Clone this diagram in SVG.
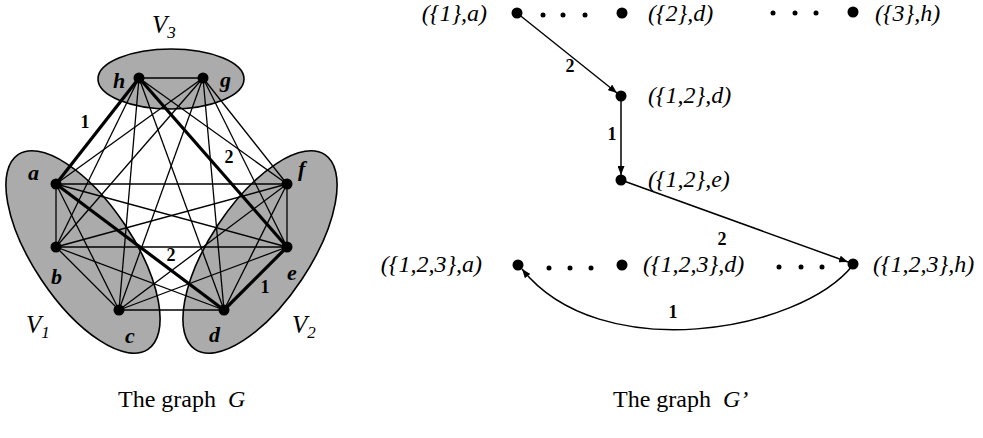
<svg xmlns="http://www.w3.org/2000/svg" width="983" height="438" viewBox="0 0 983 438">
<style>
.blob{fill:#ababab;stroke:#000;stroke-width:1.6}
.e{stroke:#000;stroke-width:1.3;fill:none}
.t{stroke:#000;stroke-width:3.2;fill:none}
.dot{fill:#000}
.nl{font-family:"Liberation Serif",serif;font-style:italic;font-weight:bold;font-size:22px;fill:#000}
.vl{font-family:"Liberation Serif",serif;font-style:italic;font-size:25px;fill:#000}
.sub{font-family:"Liberation Serif",serif;font-size:17px;fill:#000}
.w{font-family:"Liberation Serif",serif;font-weight:bold;font-size:18px;fill:#000}
.lbl{font-family:"Liberation Serif",serif;font-style:italic;font-size:24px;fill:#000}
.cap{font-family:"Liberation Serif",serif;font-size:24px;fill:#000}
.arr{stroke:#000;stroke-width:1.5;fill:none;marker-end:url(#ah)}
</style>
<defs>
<marker id="ah" markerUnits="userSpaceOnUse" markerWidth="9" markerHeight="7" refX="9" refY="3.5" orient="auto">
<path d="M0,0 L9,3.5 L0,7 z" fill="#000"/>
</marker>
</defs>

<!-- Graph G: groups (blobs) -->
<g id="V1">
<ellipse class="blob" cx="83" cy="252" rx="117" ry="50" transform="rotate(56.3 83 252)"/>
<text class="vl" x="26" y="333">V<tspan class="sub" dy="5">1</tspan></text>
</g>
<g id="V2">
<ellipse class="blob" cx="260" cy="252" rx="117" ry="50" transform="rotate(-56.3 260 252)"/>
<text class="vl" x="292" y="333">V<tspan class="sub" dy="5">2</tspan></text>
</g>
<g id="V3">
<ellipse class="blob" cx="171" cy="79" rx="73" ry="30"/>
<text class="vl" x="152" y="33">V<tspan class="sub" dy="5">3</tspan></text>
</g>

<!-- Graph G: edges -->
<g id="edges-G">
<line class="e" x1="139" y1="78" x2="203" y2="78"/>
<line class="e" x1="139" y1="78" x2="56" y2="247"/>
<line class="e" x1="139" y1="78" x2="119" y2="310"/>
<line class="e" x1="139" y1="78" x2="224" y2="310"/>
<line class="e" x1="139" y1="78" x2="287" y2="184"/>
<line class="e" x1="203" y1="78" x2="56" y2="184"/>
<line class="e" x1="203" y1="78" x2="56" y2="247"/>
<line class="e" x1="203" y1="78" x2="119" y2="310"/>
<line class="e" x1="203" y1="78" x2="224" y2="310"/>
<line class="e" x1="203" y1="78" x2="287" y2="247"/>
<line class="e" x1="203" y1="78" x2="287" y2="184"/>
<line class="e" x1="56" y1="184" x2="287" y2="184"/>
<line class="e" x1="56" y1="184" x2="56" y2="247"/>
<line class="e" x1="56" y1="184" x2="119" y2="310"/>
<line class="e" x1="56" y1="184" x2="287" y2="247"/>
<line class="e" x1="56" y1="247" x2="287" y2="247"/>
<line class="e" x1="56" y1="247" x2="119" y2="310"/>
<line class="e" x1="56" y1="247" x2="224" y2="310"/>
<line class="e" x1="56" y1="247" x2="287" y2="184"/>
<line class="e" x1="119" y1="310" x2="224" y2="310"/>
<line class="e" x1="119" y1="310" x2="287" y2="184"/>
<line class="e" x1="119" y1="310" x2="287" y2="247"/>
<line class="e" x1="224" y1="310" x2="287" y2="184"/>
<line class="e" x1="287" y1="184" x2="287" y2="247"/>
<line class="t" x1="139" y1="78" x2="56" y2="184"/>
<line class="t" x1="139" y1="78" x2="287" y2="247"/>
<line class="t" x1="56" y1="184" x2="224" y2="310"/>
<line class="t" x1="224" y1="310" x2="287" y2="247"/>
<text class="w" x="85" y="128" text-anchor="middle">1</text>
<text class="w" x="229" y="163" text-anchor="middle">2</text>
<text class="w" x="171" y="261" text-anchor="middle">2</text>
<text class="w" x="265" y="293" text-anchor="middle">1</text>
</g>

<!-- Graph G: nodes -->
<g id="node-h"><circle class="dot" cx="139" cy="78" r="5.5"/><text class="nl" x="113" y="88">h</text></g>
<g id="node-g"><circle class="dot" cx="203" cy="78" r="5.5"/><text class="nl" x="220" y="87">g</text></g>
<g id="node-a"><circle class="dot" cx="56" cy="184" r="5.5"/><text class="nl" x="28" y="180">a</text></g>
<g id="node-f"><circle class="dot" cx="287" cy="184" r="5.5"/><text class="nl" x="298" y="176">f</text></g>
<g id="node-b"><circle class="dot" cx="56" cy="247" r="5.5"/><text class="nl" x="51" y="284">b</text></g>
<g id="node-e"><circle class="dot" cx="287" cy="247" r="5.5"/><text class="nl" x="287" y="280">e</text></g>
<g id="node-c"><circle class="dot" cx="119" cy="310" r="5.5"/><text class="nl" x="125" y="343">c</text></g>
<g id="node-d"><circle class="dot" cx="224" cy="310" r="5.5"/><text class="nl" x="209" y="342">d</text></g>

<!-- Graph G': connectors -->
<g id="edges-Gp">
<line class="arr" x1="517" y1="13" x2="617" y2="93"/>
<line class="arr" x1="621" y1="96" x2="621" y2="175"/>
<line class="arr" x1="621" y1="180" x2="848" y2="262"/>
<path class="arr" d="M853,265 C800,332 600,367 522,269"/>
<text class="w" x="570" y="72" text-anchor="middle">2</text>
<text class="w" x="612" y="140" text-anchor="middle">1</text>
<text class="w" x="722" y="245" text-anchor="middle">2</text>
<text class="w" x="673" y="318" text-anchor="middle">1</text>
</g>

<!-- Graph G': nodes -->
<g id="node-1a"><circle class="dot" cx="517" cy="13" r="5.5"/><text class="lbl" x="487" y="21" text-anchor="end">({1},a)</text></g>
<g id="node-2d"><circle class="dot" cx="622" cy="13" r="5.5"/><text class="lbl" x="648" y="21">({2},d)</text></g>
<g id="node-3h"><circle class="dot" cx="853" cy="12" r="5.5"/><text class="lbl" x="875" y="21">({3},h)</text></g>
<g id="node-12d"><circle class="dot" cx="621" cy="96" r="5.5"/><text class="lbl" x="648" y="103">({1,2},d)</text></g>
<g id="node-12e"><circle class="dot" cx="621" cy="180" r="5.5"/><text class="lbl" x="648" y="187">({1,2},e)</text></g>
<g id="node-123a"><circle class="dot" cx="518" cy="265" r="5.5"/><text class="lbl" x="482" y="272" text-anchor="end">({1,2,3},a)</text></g>
<g id="node-123d"><circle class="dot" cx="622" cy="265" r="5.5"/><text class="lbl" x="643" y="272">({1,2,3},d)</text></g>
<g id="node-123h"><circle class="dot" cx="853" cy="264" r="5.5"/><text class="lbl" x="873" y="272">({1,2,3},h)</text></g>

<g id="ellipses">
<circle class="dot" cx="543" cy="15" r="2.5"/><circle class="dot" cx="563" cy="15" r="2.5"/><circle class="dot" cx="585" cy="15" r="2.5"/>
<circle class="dot" cx="773" cy="13" r="2.5"/><circle class="dot" cx="795" cy="13" r="2.5"/><circle class="dot" cx="816" cy="13" r="2.5"/>
<circle class="dot" cx="549" cy="268" r="2.5"/><circle class="dot" cx="570" cy="268" r="2.5"/><circle class="dot" cx="591" cy="268" r="2.5"/>
<circle class="dot" cx="779" cy="267" r="2.5"/><circle class="dot" cx="801" cy="267" r="2.5"/><circle class="dot" cx="822" cy="267" r="2.5"/>
</g>

<g id="captions">
<text class="cap" x="118" y="407" xml:space="preserve">The graph  <tspan font-style="italic">G</tspan></text>
<text class="cap" x="613" y="407" xml:space="preserve">The graph  <tspan font-style="italic">G’</tspan></text>
</g>
</svg>
